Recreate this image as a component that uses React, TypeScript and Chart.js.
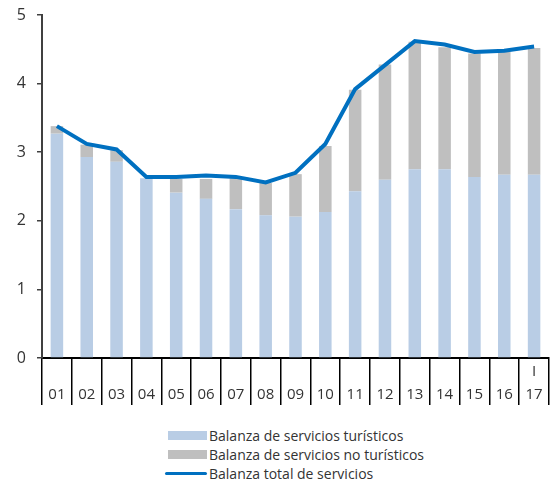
import React, { useEffect, useRef } from "react";
import { Chart, registerables } from "chart.js";

Chart.register(...registerables);

const years = ["01","02","03","04","05","06","07","08","09","10","11","12","13","14","15","16","17"];
const quarterRow = ["","","","","","","","","","","","","","","","","I"];
const turisticos = [3.27,2.93,2.86,2.62,2.41,2.32,2.17,2.08,2.06,2.13,2.43,2.60,2.75,2.75,2.64,2.67,2.67];
const noTuristicos = [0.11,0.18,0.17,0.0,0.20,0.29,0.45,0.47,0.62,0.96,1.48,1.68,1.86,1.78,1.80,1.79,1.85];
const total = [3.38,3.12,3.04,2.64,2.64,2.66,2.64,2.56,2.70,3.12,3.92,4.27,4.62,4.57,4.46,4.48,4.54];
const yTicks = [0,1,2,3,4,5];

const seriesNames = [
  "Balanza de servicios turísticos",
  "Balanza de servicios no turísticos",
  "Balanza total de servicios",
];
const colors = ["#B9CDE5", "#BFBFBF", "#0070C0"];
const FONT = "'Open Sans', 'DejaVu Sans', sans-serif";

export default function App() {
  const ref = useRef<HTMLCanvasElement>(null);
  useEffect(() => {
    if (!ref.current) return;
    const labels = years.map((y, i) => [quarterRow[i], y]);
    const chart = new Chart(ref.current, {
      type: "bar",
      data: {
        labels,
        datasets: [
          {
            type: "line",
            label: seriesNames[2],
            data: total,
            borderColor: colors[2],
            borderWidth: 4,
            pointRadius: 0,
            tension: 0,
            fill: false,
            stack: "line",
            order: 0,
          } as any,
          {
            label: seriesNames[0],
            data: turisticos,
            backgroundColor: colors[0],
            stack: "bars",
            barPercentage: 0.42,
            categoryPercentage: 1,
            order: 1,
          },
          {
            label: seriesNames[1],
            data: noTuristicos,
            backgroundColor: colors[1],
            stack: "bars",
            barPercentage: 0.42,
            categoryPercentage: 1,
            order: 1,
          },
        ],
      },
      options: {
        animation: false,
        responsive: false,
        maintainAspectRatio: false,
        layout: { padding: { top: 15, right: 6, bottom: 5, left: 0 } },
        plugins: { legend: { display: false }, tooltip: { enabled: false } },
        scales: {
          x: {
            stacked: true,
            offset: true,
            grid: {
              offset: true,
              drawOnChartArea: false,
              drawTicks: true,
              tickLength: 47,
              color: "#000",
              lineWidth: 1.5,
            },
            border: { display: true, color: "#000", width: 2 },
            ticks: {
              autoSkip: false,
              maxRotation: 0,
              padding: -44.5,
              color: "#333",
              font: { family: FONT, size: 15, lineHeight: 1.5 },
            },
            afterFit: (s: any) => { s.height = 47; s.paddingLeft = 0; s.paddingRight = 0; },
          },
          y: {
            stacked: true,
            min: 0,
            max: 5,
            afterBuildTicks: (s: any) => { s.ticks = yTicks.map((v) => ({ value: v })); },
            grid: {
              drawOnChartArea: false,
              drawTicks: true,
              tickLength: 5,
              color: "#404040",
              lineWidth: 1.5,
            },
            border: { display: true, color: "#404040", width: 2 },
            ticks: {
              padding: 11,
              color: "#333",
              font: { family: FONT, size: 16 },
            },
            afterFit: (s: any) => { s.width = 42; s.paddingTop = 0; s.paddingBottom = 0; },
          },
        },
      },
    });
    return () => chart.destroy();
  }, []);

  const textStyle: React.CSSProperties = {
    fontFamily: FONT,
    fontSize: 14,
    color: "#333",
    lineHeight: "19px",
    whiteSpace: "nowrap",
  };

  return (
    <div style={{ position: "absolute", left: 0, top: 0, width: 555, height: 483, background: "#fff" }}>
      <canvas ref={ref} width={555} height={410} style={{ display: "block" }} />
      <div style={{ position: "absolute", left: 165, top: 426 }}>
        {seriesNames.map((name, i) => (
          <div key={name} style={{ display: "flex", alignItems: "center", height: 19 }}>
            <div style={{ width: 42, display: "flex", justifyContent: "flex-end" }}>
              {i < 2 ? (
                <div style={{ width: 39, height: 9, background: colors[i] }} />
              ) : (
                <div style={{ width: 42, height: 3, background: colors[i], borderRadius: 2 }} />
              )}
            </div>
            <span style={{ ...textStyle, marginLeft: 2 }}>{name}</span>
          </div>
        ))}
      </div>
    </div>
  );
}
